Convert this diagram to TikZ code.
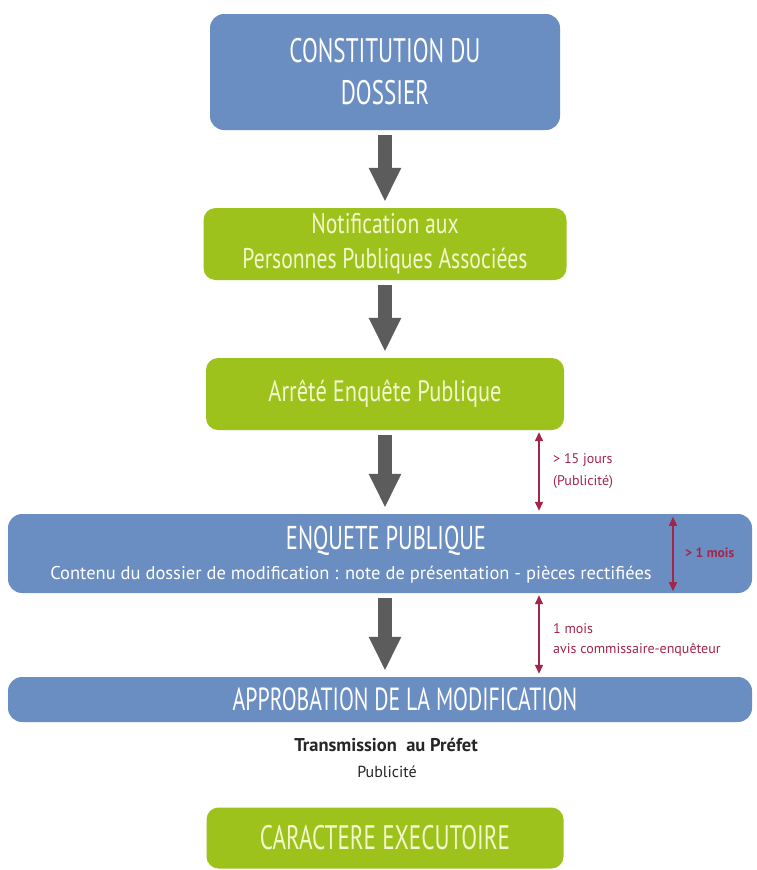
\documentclass[tikz,border=0pt]{standalone}
\usepackage{fontspec}
\setmainfont{PT Sans}
\newfontfamily\stepfont[FakeStretch=0.76]{PT Sans}
\newfontfamily\titlefont[FakeStretch=0.68]{PT Sans}
\usetikzlibrary{arrows.meta}

\definecolor{boxblue}{RGB}{106,142,194}
\definecolor{boxgreen}{RGB}{158,194,28}
\definecolor{palegreen}{RGB}{242,247,204}
\definecolor{arrowgray}{RGB}{92,92,92}
\definecolor{delayred}{RGB}{163,38,74}

\begin{document}
\begin{tikzpicture}[x=1pt,y=-1pt,
    bluebox/.style={fill=boxblue, rounded corners=14pt, text=white, inner sep=0pt, align=center},
    greenbox/.style={fill=boxgreen, rounded corners=12pt, text=palegreen, inner sep=0pt, align=center},
    flow/.style={draw=arrowgray, line width=14pt, -{Triangle[width=30pt,length=34pt]}, shorten <=5pt, shorten >=6pt},
    delay/.style={draw=delayred, line width=1.4pt, {Triangle[width=8pt,length=9pt]}-{Triangle[width=8pt,length=9pt]}, shorten <=2pt, shorten >=3pt},
    note/.style={text=delayred, anchor=west, inner sep=0pt, font=\fontsize{14}{16}\selectfont}]
  \useasboundingbox[fill=white] (0,0) rectangle (757,870);

  % main steps
  \node[bluebox, minimum width=350pt, minimum height=116pt, font=\titlefont\fontsize{34}{42}\selectfont] (dossier) at (385,72) {CONSTITUTION DU\\DOSSIER};
  \node[greenbox, minimum width=363pt, minimum height=72pt, font=\stepfont\fontsize{28.5}{35}\selectfont] (notif) at (385,244) {Notification aux\\Personnes Publiques Associées};
  \node[greenbox, minimum width=358pt, minimum height=72pt, font=\stepfont\fontsize{29.5}{32}\selectfont] (arrete) at (385,394) {Arrêté Enquête Publique};
  \node[bluebox, minimum width=744pt, minimum height=79pt] (enquete) at (380,553.5) {};
  \node[text=white, inner sep=0pt, font=\titlefont\fontsize{33}{36}\selectfont] (enqtitle) at (386,541) {ENQUETE PUBLIQUE};
  \node[text=white, inner sep=0pt, font=\fontsize{18.5}{21}\selectfont] (enqsub) at (351,575) {Contenu du dossier de modification : note de présentation - pièces rectifiées};
  \node[bluebox, minimum width=744pt, minimum height=45pt] (approb) at (380,699.5) {};
  \node[text=white, inner sep=0pt, font=\titlefont\fontsize{32}{35}\selectfont] (approbtxt) at (405,699) {APPROBATION DE LA MODIFICATION};
  \node[text=black!85, inner sep=0pt, font=\fontsize{18.5}{21}\selectfont\bfseries] (prefet) at (386,745) {Transmission~ au Préfet};
  \node[text=black!85, inner sep=0pt, font=\fontsize{16}{19}\selectfont] (pub) at (387,772) {Publicité};
  \node[greenbox, minimum width=357pt, minimum height=61pt, font=\titlefont\fontsize{34}{37}\selectfont] (execut) at (385,838) {CARACTERE EXECUTOIRE};

  % flow arrows
  \draw[flow] (dossier.south) -- (notif.north);
  \draw[flow] (notif.south) -- (arrete.north);
  \draw[flow] (arrete.south) -- (arrete.south |- enquete.north);
  \draw[flow] (enquete.south -| arrete.south) -- (approb.north -| arrete.south);

  % delays
  \coordinate (delayx) at (539,0);
  \coordinate (moisx) at (673,0);
  \draw[delay] (arrete.south -| delayx) -- (enquete.north -| delayx);
  \draw[delay, shorten <=3pt, shorten >=2pt] (enquete.north -| moisx) -- (enquete.south -| moisx);
  \draw[delay] (enquete.south -| delayx) -- (approb.north -| delayx);
  \node[note] (quinze) at (553,460) {> 15 jours};
  \node[note] (pubnote) at (553,482) {(Publicité)};
  \node[note, font=\fontsize{13.5}{16}\selectfont\bfseries] (unmois) at (685,553) {> 1 mois};
  \node[note] (mois) at (553,629) {1 mois};
  \node[note] (avis) at (553,650) {avis commissaire-enquêteur};
\end{tikzpicture}
\end{document}
